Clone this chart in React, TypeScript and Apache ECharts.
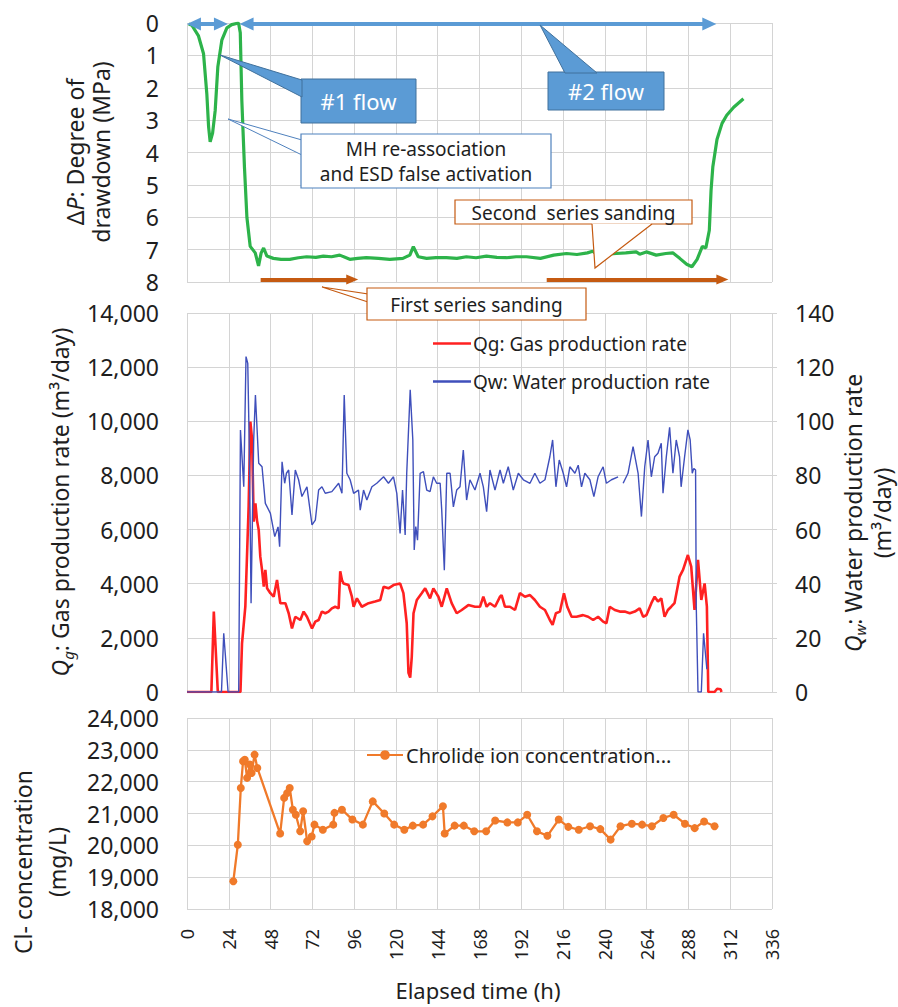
import React, { useEffect, useRef } from 'react';
import * as echarts from 'echarts';

// ---------- data ----------
const hourMin = 0;
const hourMax = 336;
const hourStep = 24;

// ΔP: degree of drawdown (MPa) vs elapsed time (h)
const drawdown: [number, number][] = [
  [1, 0.03], [2.8, 0.07], [6.6, 0.4], [9.5, 0.95], [11.4, 2.2], [12.4, 3.2], [13.3, 3.67], [14.7, 3.4],
  [16.2, 2.7], [17.7, 1.36], [20, 0.53], [22.9, 0.15], [25.7, 0.05], [29.6, 0.0], [30.6, 0.3], [31.5, 2.4],
  [33, 4.45], [34.4, 6.0], [36.3, 6.9], [39.2, 7.1], [41.1, 7.5], [42.6, 7.1], [44, 6.95], [45.9, 7.2],
  [49.6, 7.27], [54, 7.3], [59, 7.3], [64, 7.25], [68.7, 7.22], [74, 7.24], [78.3, 7.2], [83, 7.22],
  [87.7, 7.17], [93.5, 7.3], [98, 7.27], [103, 7.25], [110, 7.27], [116.5, 7.3], [124, 7.27], [128, 7.17],
  [130, 6.91], [132.8, 7.22], [137.6, 7.27], [143, 7.25], [149, 7.25], [155, 7.27], [160.5, 7.22],
  [166, 7.25], [172, 7.2], [178, 7.24], [183.5, 7.25], [189, 7.22], [195, 7.22], [203, 7.27],
  [210.6, 7.17], [218, 7.12], [224, 7.15], [230, 7.1], [233, 7.05], [235.6, 7.15], [241, 7.14],
  [246.6, 7.12], [252, 7.1], [258, 7.07], [260, 7.14], [263.8, 7.07], [269.5, 7.17], [275, 7.12],
  [279, 7.1], [283, 7.27], [287, 7.45], [290, 7.53], [293, 7.3], [296, 6.9], [298, 6.95], [300, 6.4],
  [301, 5.17], [302, 4.45], [304.4, 3.6], [307.3, 3.1], [310, 2.85], [314, 2.6], [319.6, 2.34],
];

// Qg: gas production rate (m3/day)
const gasRate: [number, number][] = [
  [0, 0], [14, 0], [15.4, 2970], [17.7, 0], [30.7, 0], [31.6, 1800], [33.5, 3150], [35.4, 6850],
  [36.4, 9990], [37.4, 9300], [38.3, 6290], [39.3, 6970], [40.2, 6340], [41.2, 5980], [42.1, 5000],
  [43.1, 4510], [44.1, 3890], [45, 4510], [46, 3830], [47.9, 3650], [49.8, 3520], [51.7, 4140],
  [53.6, 3280], [56.5, 3280], [58.4, 2910], [60.3, 2350], [62.2, 2780], [65.1, 2660], [67, 2970],
  [68.9, 2780], [71.8, 2350], [73.7, 2600], [75.6, 2660], [77.5, 2970], [79.4, 2910], [81.3, 2970],
  [83.2, 3090], [85.1, 3150], [87.1, 3090], [88, 4460], [89, 4140], [89.9, 4010], [92.8, 3950],
  [94.7, 3520], [95.7, 3150], [97.6, 3460], [100.4, 3150], [104.3, 3280], [108, 3340], [111, 3400],
  [112.9, 3890], [115.7, 3830], [118.6, 3950], [122.4, 4010], [124.3, 3650], [126.2, 2540],
  [127.2, 710], [128.2, 530], [129.1, 1300], [130.1, 2910], [132, 3400], [134.8, 3650], [136.8, 3830],
  [139.6, 3460], [141.5, 3830], [144.4, 3520], [146.3, 3150], [149.2, 3830], [152, 3280], [154.9, 2910],
  [157.8, 3030], [161.6, 3210], [165.4, 3150], [168.3, 3150], [170.2, 3520], [172.1, 3150], [174, 3280],
  [176.9, 3150], [179.8, 3520], [180.7, 3580], [182.6, 3150], [185.5, 3150], [188.4, 3030], [191.2, 3650],
  [194.1, 3520], [197, 3580], [199.8, 3400], [202.7, 3150], [205.6, 3030], [208.4, 2660], [210, 2480],
  [211.9, 2910], [214.2, 2970], [216.5, 3650], [218.4, 3150], [220.9, 2780], [223.7, 2780], [227.5, 2840],
  [230.4, 2780], [233.3, 2660], [236.1, 2780], [239, 2600], [240.9, 2540], [242.8, 3150], [245.7, 3030],
  [248.6, 2970], [251.4, 2970], [254.3, 2910], [257.2, 2970], [260, 3090], [262, 2780], [263.9, 2840],
  [266.7, 3280], [268.6, 3520], [270.5, 3340], [272.4, 3460], [274.3, 2780], [276.2, 3030], [278.1, 3150],
  [280, 3280], [282.9, 4260], [284.9, 4510], [287.7, 5060], [289.6, 4630], [291.5, 3030], [293.5, 4880],
  [295.4, 3400], [297.3, 4010], [298.6, 3150], [299.4, 0], [303, 0], [304.5, 120], [306.5, 100], [307, 0],
];

// Qw: water production rate (m3/day)
const waterRate: [number, number | null][] = [
  [0, 0], [19.8, 0], [21.1, 21.7], [23.6, 0], [29.7, 0], [30.7, 96.8], [32.6, 75.8], [33.9, 123.9],
  [34.9, 121.4], [35.8, 89.4], [36.8, 32.8], [38.3, 93.1], [39.3, 109.7], [41.2, 84.5], [43.1, 83.2],
  [45, 69.7], [47.9, 66], [50.4, 57.4], [52.3, 61], [53.2, 53.7], [54.6, 85], [56.1, 77.1], [57.1, 80.8],
  [58.4, 82], [60.3, 65.4], [62.2, 82], [64.1, 78.4], [66, 72.2], [68.9, 75.8], [71.8, 61.7], [73.7, 63.5],
  [75.6, 74.6], [77.5, 75.8], [79.4, 73.4], [83.2, 74], [87.1, 77.1], [89, 73.4], [90.3, 109.7],
  [91.8, 80.8], [93.7, 78.4], [95.7, 73.4], [98.5, 74.6], [99.5, 67.2], [101.4, 74.6], [103.3, 70.9],
  [106.2, 75.8], [109, 77.1], [112.9, 79.5], [115.7, 77.1], [118.6, 79.5], [120.5, 73.4], [122.4, 58.6],
  [123.8, 74.6], [125.3, 58], [126.2, 80.8], [128.2, 111.6], [129.7, 93.1], [130.5, 52.5], [131.4, 61.1],
  [132.4, 56.1], [133.9, 80.8], [135.8, 81.4], [137.7, 74.6], [139.6, 74], [141.5, 79.5], [143.4, 77.1],
  [145.4, 77.1], [146.3, 67.2], [147.8, 45], [149.2, 80.8], [151.1, 80.8], [153, 68.4], [154.9, 74.6],
  [156.8, 75.8], [158.7, 89.4], [160.6, 70.9], [162.5, 78.4], [165.4, 74.6], [168.3, 80.8], [170.2, 75.8],
  [172.1, 66.6], [174, 82], [176.9, 74.6], [179.8, 82], [181.7, 77.1], [184.5, 83.2], [187.4, 74.6],
  [190.3, 80.8], [193.2, 78.4], [197, 77.1], [199.8, 80.8], [202.7, 77.1], [205.6, 78.4], [208.4, 86.9],
  [210, 93.1], [211.9, 75.8], [213.8, 85.7], [216.1, 80.8], [218, 75.8], [219.9, 83.2], [222.8, 80.8],
  [224.7, 83.8], [226.6, 75.8], [228.5, 80.8], [231.4, 78.4], [233.7, 72.2], [236.1, 79.5], [239, 83.2],
  [240.9, 77.1], [243.8, 78.4], [247.6, 79.5], [249, null], [250.5, 77.1], [253.3, 80.8], [256.2, 90.6],
  [259.1, 80.8], [261, 64.8], [262.9, 83.2], [264.8, 93.1], [266.7, 79.5], [268.6, 86.9], [270.5, 88.2],
  [272.4, 91.9], [273.4, 73.4], [275.3, 86.9], [277.2, 97.8], [279.1, 80.8], [281, 93.1], [282.9, 86.9],
  [283.8, 75.8], [285.8, 86.9], [287.7, 96.8], [289, 93.1], [290.2, 80.8], [291.1, 82.6], [292.1, 82],
  [292.5, 31.6], [293.5, 0], [295.4, 0], [296.7, 21.7], [298.6, 8.4],
];

// Cl- concentration (mg/L)
const chloride: [number, number][] = [
  [26.6, 18870], [29.2, 20020], [30.9, 21800], [32.2, 22640], [33.2, 22690], [34.5, 22120], [36.1, 22540],
  [37.1, 22270], [38.8, 22850], [40.4, 22430], [53.5, 20370], [55.8, 21490], [57.5, 21640], [59, 21800],
  [60.8, 21120], [62.5, 20960], [65, 20440], [66.7, 21070], [69, 20130], [71.6, 20280], [73.2, 20650],
  [78, 20490], [84, 20650], [84.7, 21020], [89, 21120], [95, 20810], [101, 20650], [106.7, 21380],
  [113.3, 21000], [119, 20650], [124.8, 20490], [129.7, 20620], [135.6, 20650], [141, 20910], [147, 21230],
  [148, 20370], [153.7, 20620], [159, 20620], [165, 20440], [171.8, 20440], [177, 20780], [184, 20720],
  [190, 20720], [195.4, 20960], [201, 20440], [207, 20300], [213.5, 20810], [219, 20580], [225, 20490],
  [231.5, 20600], [237.4, 20510], [243.3, 20180], [249, 20600], [255.5, 20680], [261.4, 20650], [267, 20600],
  [273.6, 20860], [279.5, 20960], [286, 20680], [291.6, 20540], [297, 20750], [303, 20600],
];

// annotation periods (h, arrow tip to arrow tip) and levels (MPa)
const flowPeriods: [number, number][] = [[0, 23.5], [30.2, 304]];
const flowArrowLevel = 0.03;
const sandingPeriods: [number, number][] = [[42.3, 98.4], [206.6, 311]];
const sandingArrowLevel = 7.92;

const gasName = 'Qg: Gas production rate';
const waterName = 'Qw: Water production rate';
const clName = 'Chrolide ion concentration...';

// ---------- styling ----------
const FONT = '"Noto Sans", "Open Sans", "DejaVu Sans", sans-serif';
const TXT = '#1e1e1e';
const GRID = '#d4d4d4';
const GL = 187;
const GW = 585;
const FLOW_HEAD_HALF_H = 4; // half arrow-head length, in hours
const SAND_HEAD_HALF_H = 3.5;

const fmt = (v: number) => v.toLocaleString('en-US');

function makeOption(): any {
  const xBase = (gridIndex: number, labels: boolean) => ({
    type: 'value',
    gridIndex,
    min: hourMin,
    max: hourMax,
    interval: hourStep,
    axisLine: { show: false, onZero: false },
    axisTick: { show: false },
    splitLine: { show: true, lineStyle: { color: GRID, width: 1 } },
    axisLabel: labels
      ? { show: true, rotate: 90, margin: 20, fontSize: 18, fontFamily: FONT, color: TXT }
      : { show: false },
  });
  const yLabel = { fontSize: 23, lineHeight: 24, fontFamily: FONT, color: TXT, margin: 28 };

  const richBase = { fontFamily: FONT, fill: TXT, color: TXT };

  const graphic: any[] = [
    // axis titles
    {
      type: 'text', x: 88, y: 152, rotation: Math.PI / 2, z: 100,
      style: {
        text: '{n|Δ}{i|P}{n|: Degree of}\n{n|drawdown (MPa)}',
        align: 'center', verticalAlign: 'middle', fill: TXT, fontFamily: FONT, fontSize: 23,
        rich: {
          n: { ...richBase, fontSize: 23, lineHeight: 26 },
          i: { ...richBase, fontSize: 23, lineHeight: 26, fontStyle: 'italic' },
        },
      },
    },
    {
      type: 'text', x: 60, y: 502, rotation: Math.PI / 2, z: 100,
      style: {
        text: '{i|Q}{s|g}{n|: Gas production rate (m³/day)}',
        align: 'center', verticalAlign: 'middle', fill: TXT, fontFamily: FONT, fontSize: 23,
        rich: {
          n: { ...richBase, fontSize: 23, lineHeight: 30 },
          i: { ...richBase, fontSize: 23, lineHeight: 30, fontStyle: 'italic' },
          s: { ...richBase, fontSize: 15, fontStyle: 'italic', verticalAlign: 'bottom' },
        },
      },
    },
    {
      type: 'text', x: 867, y: 513, rotation: Math.PI / 2, z: 100,
      style: {
        text: '{i|Q}{s|w}{n|: Water production rate}\n{n|(m³/day)}',
        align: 'center', verticalAlign: 'middle', fill: TXT, fontFamily: FONT, fontSize: 23,
        rich: {
          n: { ...richBase, fontSize: 23, lineHeight: 29 },
          i: { ...richBase, fontSize: 23, lineHeight: 29, fontStyle: 'italic' },
          s: { ...richBase, fontSize: 15, fontStyle: 'italic', verticalAlign: 'bottom' },
        },
      },
    },
    {
      type: 'text', x: 40, y: 862, rotation: Math.PI / 2, z: 100,
      style: {
        text: 'Cl- concentration\n(mg/L)',
        align: 'center', verticalAlign: 'middle', fill: TXT, fontFamily: FONT, fontSize: 23,
        fontWeight: 'normal', lineHeight: 34,
      },
    },
    {
      type: 'text', x: 478, y: 990, z: 100,
      style: {
        text: 'Elapsed time (h)', align: 'center', verticalAlign: 'middle', fill: TXT,
        fontFamily: FONT, fontSize: 22,
      },
    },

    // #1 flow callout
    {
      type: 'rect', z: 100, shape: { x: 301, y: 79, width: 115, height: 44 },
      style: { fill: '#5b9bd5', stroke: '#41719c', lineWidth: 1 },
    },
    {
      type: 'polygon', z: 101, shape: { points: [[220, 55], [302, 80], [302, 97]] },
      style: { fill: '#5b9bd5', stroke: '#41719c', lineWidth: 1 },
    },
    {
      type: 'text', z: 102, x: 358.5, y: 101,
      style: { text: '#1 flow', fill: '#ffffff', fontFamily: FONT, fontSize: 22, align: 'center', verticalAlign: 'middle' },
    },
    // #2 flow callout
    {
      type: 'rect', z: 100, shape: { x: 548, y: 72, width: 116, height: 38 },
      style: { fill: '#5b9bd5', stroke: '#41719c', lineWidth: 1 },
    },
    {
      type: 'polygon', z: 101, shape: { points: [[540, 25], [565, 73], [597, 73]] },
      style: { fill: '#5b9bd5', stroke: '#41719c', lineWidth: 1 },
    },
    {
      type: 'text', z: 102, x: 606, y: 91,
      style: { text: '#2 flow', fill: '#ffffff', fontFamily: FONT, fontSize: 22, align: 'center', verticalAlign: 'middle' },
    },
    // MH re-association callout
    {
      type: 'polygon', z: 100, shape: { points: [[228, 119], [302, 140], [302, 155]] },
      style: { fill: '#ffffff', stroke: '#4f81bd', lineWidth: 1 },
    },
    {
      type: 'rect', z: 101, shape: { x: 301, y: 134, width: 250, height: 54 },
      style: { fill: '#ffffff', stroke: '#4f81bd', lineWidth: 1.2 },
    },
    {
      type: 'text', z: 102, x: 426, y: 161,
      style: {
        text: 'MH re-association\nand ESD false activation', fill: TXT, fontFamily: FONT, fontSize: 19,
        lineHeight: 25, align: 'center', verticalAlign: 'middle',
      },
    },
    // Second series sanding callout
    {
      type: 'rect', z: 100, shape: { x: 455, y: 200, width: 237, height: 24 },
      style: { fill: '#ffffff', stroke: '#c55a11', lineWidth: 1.2 },
    },
    {
      type: 'polygon', z: 101, shape: { points: [[592, 223.4], [652, 223.4], [595, 268]] },
      style: { fill: '#ffffff', lineWidth: 0 },
    },
    {
      type: 'polyline', z: 102, shape: { points: [[592, 224], [595, 268], [652, 224]] },
      style: { stroke: '#c55a11', lineWidth: 1.2, fill: 'none' },
    },
    {
      type: 'text', z: 102, x: 573.5, y: 212.5,
      style: { text: 'Second  series sanding', fill: TXT, fontFamily: FONT, fontSize: 19, align: 'center', verticalAlign: 'middle' },
    },
    // First series sanding callout
    {
      type: 'polygon', z: 100, shape: { points: [[322, 287], [368, 294], [368, 302]] },
      style: { fill: '#ffffff', stroke: '#c55a11', lineWidth: 1.2 },
    },
    {
      type: 'rect', z: 101, shape: { x: 367, y: 288, width: 219, height: 32 },
      style: { fill: '#ffffff', stroke: '#c55a11', lineWidth: 1.2 },
    },
    {
      type: 'text', z: 102, x: 476.5, y: 304.5,
      style: { text: 'First series sanding', fill: TXT, fontFamily: FONT, fontSize: 19, align: 'center', verticalAlign: 'middle' },
    },
  ];

  return {
    animation: false,
    backgroundColor: '#ffffff',
    textStyle: { fontFamily: FONT },
    grid: [
      { left: GL, width: GW, top: 23, height: 259 },
      { left: GL, width: GW, top: 313, height: 379 },
      { left: GL, width: GW, top: 718, height: 191 },
    ],
    xAxis: [xBase(0, false), xBase(1, false), xBase(2, true)],
    yAxis: [
      {
        type: 'value', gridIndex: 0, min: 0, max: 8, interval: 1, inverse: true,
        axisLine: { show: false }, axisTick: { show: false },
        splitLine: { show: true, lineStyle: { color: GRID } },
        axisLabel: yLabel,
      },
      {
        type: 'value', gridIndex: 1, min: 0, max: 14000, interval: 2000,
        axisLine: { show: false }, axisTick: { show: false },
        splitLine: { show: true, lineStyle: { color: GRID } },
        axisLabel: { ...yLabel, formatter: fmt },
      },
      {
        type: 'value', gridIndex: 1, position: 'right', min: 0, max: 140, interval: 20,
        axisLine: { show: false },
        axisTick: { show: true, length: 5, lineStyle: { color: GRID } },
        splitLine: { show: false },
        axisLabel: { ...yLabel, margin: 23 },
      },
      {
        type: 'value', gridIndex: 2, min: 18000, max: 24000, interval: 1000,
        axisLine: { show: false }, axisTick: { show: false },
        splitLine: { show: true, lineStyle: { color: GRID } },
        axisLabel: { ...yLabel, formatter: fmt },
      },
    ],
    legend: [
      {
        data: [
          { name: gasName, icon: 'rect' },
          { name: waterName, icon: 'rect' },
        ],
        orient: 'vertical', left: 428, top: 329, itemWidth: 38, itemHeight: 2.5,
        itemGap: 19, selectedMode: false,
        textStyle: { fontSize: 19, fontFamily: FONT, color: TXT, padding: [0, 0, 0, -3] },
      },
      {
        data: [clName], left: 361, top: 740, itemWidth: 36, itemHeight: 12, selectedMode: false,
        textStyle: { fontSize: 20, fontFamily: FONT, color: TXT, padding: [0, 0, 0, -2] },
      },
    ],
    series: [
      {
        name: 'ΔP', type: 'line', xAxisIndex: 0, yAxisIndex: 0, data: drawdown,
        showSymbol: false, symbol: 'none', smooth: false,
        lineStyle: { color: '#2db34a', width: 3.2 }, itemStyle: { color: '#2db34a' }, z: 3,
      },
      {
        name: 'flow', type: 'line', xAxisIndex: 0, yAxisIndex: 0, data: [], silent: true, z: 4,
        markLine: {
          silent: true, animation: false, symbol: ['triangle', 'triangle'], symbolSize: [13, 14],
          label: { show: false }, emphasis: { disabled: true },
          lineStyle: { color: '#5b9bd5', width: 4, type: 'solid' },
          data: flowPeriods.map(([a, b]) => [
            { coord: [a + FLOW_HEAD_HALF_H, flowArrowLevel] },
            { coord: [b - FLOW_HEAD_HALF_H, flowArrowLevel] },
          ]),
        },
      },
      {
        name: 'sanding', type: 'line', xAxisIndex: 0, yAxisIndex: 0, data: [], silent: true, z: 4,
        markLine: {
          silent: true, animation: false, symbol: ['none', 'triangle'], symbolSize: [10, 12],
          label: { show: false }, emphasis: { disabled: true },
          lineStyle: { color: '#c55a11', width: 4, type: 'solid' },
          data: sandingPeriods.map(([a, b]) => [
            { coord: [a, sandingArrowLevel] },
            { coord: [b - SAND_HEAD_HALF_H, sandingArrowLevel] },
          ]),
        },
      },
      {
        name: gasName, type: 'line', xAxisIndex: 1, yAxisIndex: 1, data: gasRate,
        showSymbol: false, symbol: 'none',
        lineStyle: { color: '#ff2121', width: 2.6 }, itemStyle: { color: '#ff2121' }, z: 3,
      },
      {
        name: waterName, type: 'line', xAxisIndex: 1, yAxisIndex: 2, data: waterRate,
        showSymbol: false, symbol: 'none', connectNulls: false,
        lineStyle: { color: '#3f4fbb', width: 1.4 }, itemStyle: { color: '#3f4fbb' }, z: 4,
      },
      {
        name: clName, type: 'line', xAxisIndex: 2, yAxisIndex: 3, data: chloride,
        symbol: 'circle', symbolSize: 8, showSymbol: true,
        lineStyle: { color: '#f07a2a', width: 2.3 }, itemStyle: { color: '#f07a2a' }, z: 3,
      },
    ],
    graphic,
  };
}

export default function App() {
  const ref = useRef<HTMLDivElement>(null);
  useEffect(() => {
    if (!ref.current) return;
    const chart = echarts.init(ref.current, null, { renderer: 'svg' });
    chart.setOption(makeOption());
    return () => chart.dispose();
  }, []);
  return (
    <div
      ref={ref}
      style={{ position: 'fixed', left: 0, top: 0, width: 898, height: 1007, background: '#ffffff' }}
    />
  );
}
